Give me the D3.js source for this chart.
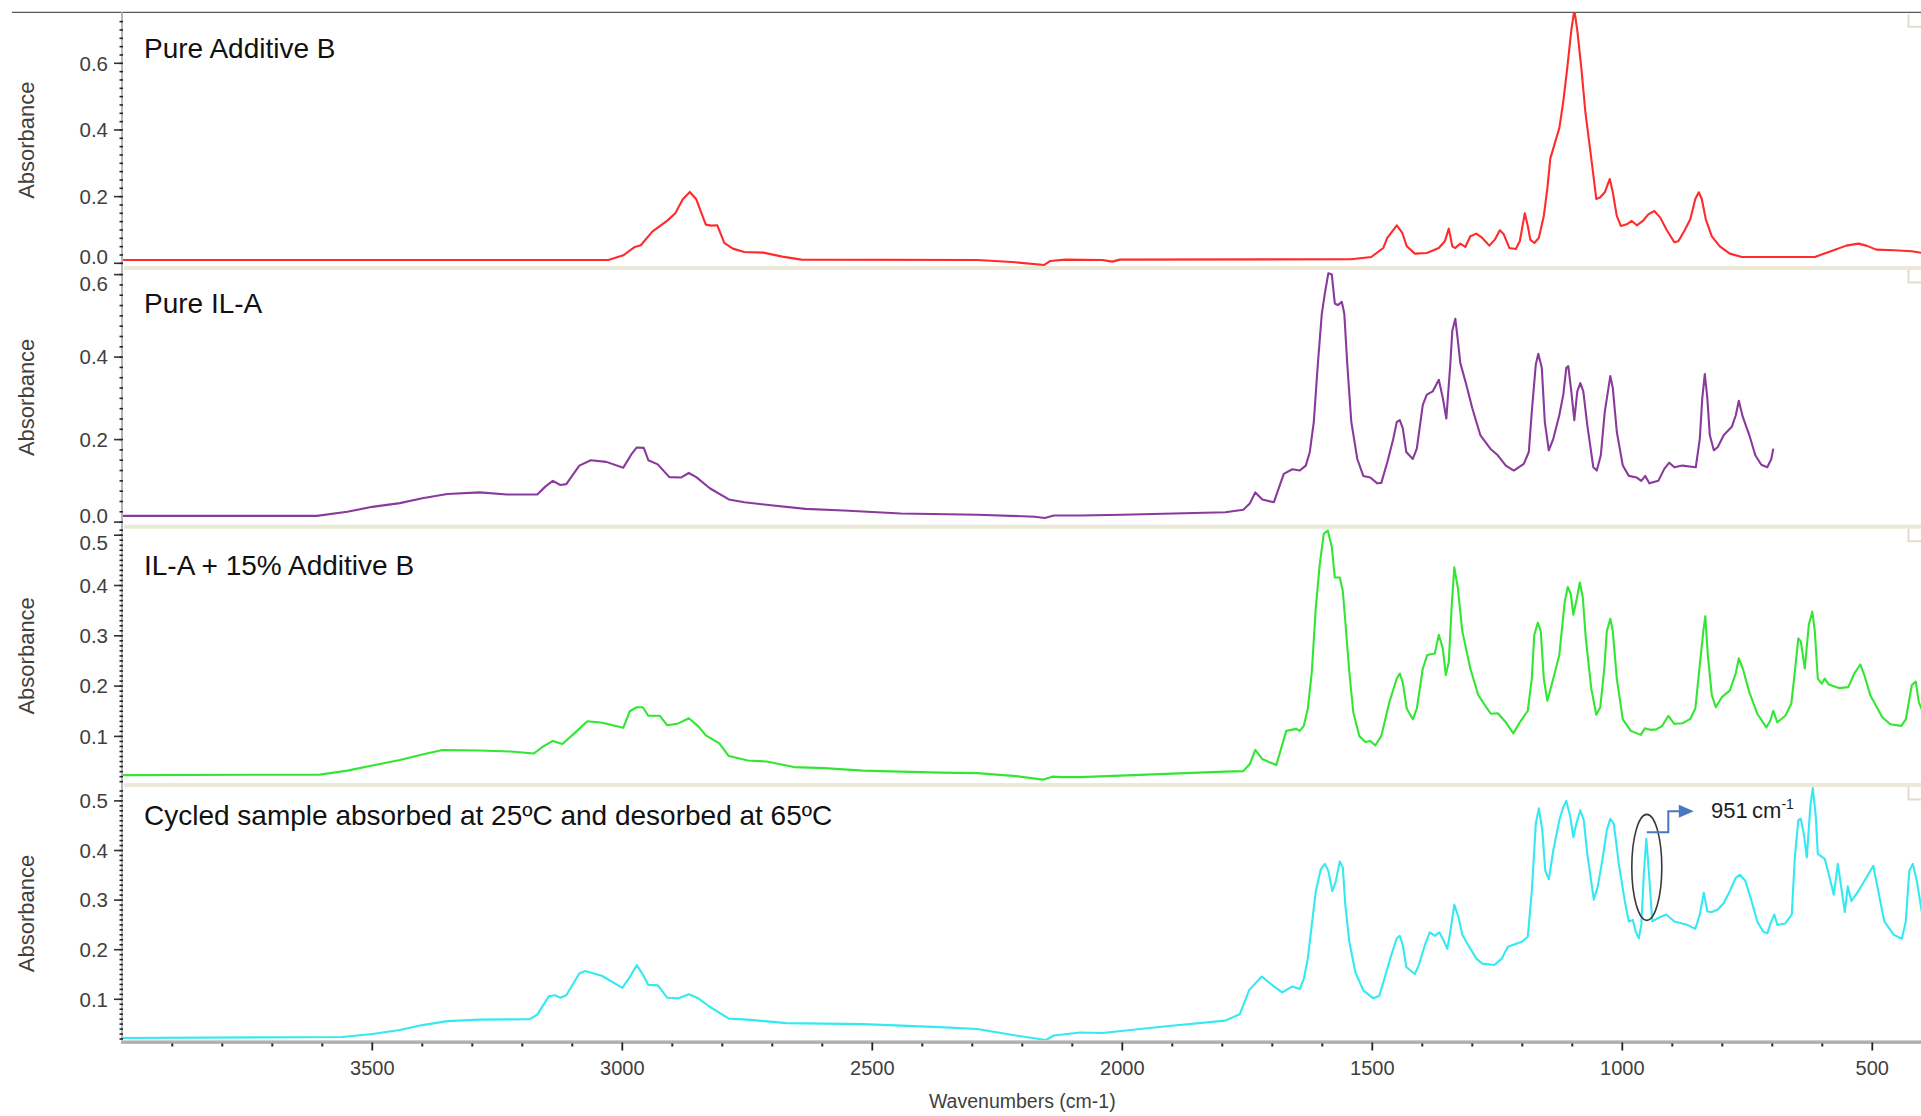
<!DOCTYPE html>
<html><head><meta charset="utf-8">
<script src="https://cdn.jsdelivr.net/npm/d3@7"></script>
<style>
body{margin:0;background:#fff}
svg{display:block}
text{font-family:"Liberation Sans",Arial,sans-serif}
</style>
</head><body>
<svg id="chart" width="1921" height="1116"></svg>
<script>
// ---------------- DATA (wavenumber cm-1, absorbance) ----------------
const additiveB = [[4000,0.010],[3290,0.010],[3028,0.010],[2998,0.024],[2975,0.049],[2963,0.054],[2940,0.095],[2910,0.128],[2894,0.150],[2879,0.192],[2865,0.214],[2852,0.192],[2833,0.116],[2822,0.113],[2810,0.114],[2796,0.061],[2779,0.044],[2756,0.034],[2718,0.032],[2680,0.020],[2642,0.011],[2290,0.010],[2221,0.004],[2156,-0.005],[2144,0.007],[2114,0.011],[2040,0.010],[2020,0.005],[2005,0.011],[1545,0.012],[1538,0.013],[1502,0.019],[1478,0.046],[1470,0.076],[1451,0.114],[1440,0.091],[1431,0.051],[1415,0.029],[1391,0.031],[1367,0.046],[1355,0.066],[1347,0.104],[1340,0.051],[1334,0.046],[1324,0.059],[1314,0.049],[1304,0.081],[1292,0.089],[1280,0.076],[1266,0.053],[1255,0.071],[1245,0.099],[1237,0.087],[1226,0.046],[1213,0.043],[1205,0.066],[1195,0.150],[1189,0.112],[1184,0.071],[1176,0.061],[1167,0.076],[1157,0.142],[1150,0.223],[1144,0.314],[1134,0.365],[1126,0.405],[1118,0.486],[1110,0.587],[1102,0.699],[1096,0.760],[1090,0.699],[1082,0.587],[1074,0.456],[1062,0.314],[1052,0.193],[1044,0.198],[1035,0.213],[1025,0.253],[1019,0.213],[1011,0.142],[1003,0.112],[991,0.117],[981,0.127],[971,0.114],[959,0.127],[948,0.147],[936,0.157],[924,0.137],[912,0.102],[896,0.063],[888,0.066],[876,0.097],[864,0.132],[854,0.193],[847,0.213],[841,0.193],[833,0.132],[821,0.081],[805,0.051],[785,0.029],[761,0.019],[615,0.019],[583,0.036],[552,0.053],[528,0.059],[512,0.053],[492,0.041],[457,0.039],[421,0.036],[400,0.031]];

const pureILA = [[4000,0.015],[3611,0.015],[3550,0.025],[3500,0.037],[3445,0.046],[3400,0.058],[3350,0.068],[3285,0.072],[3231,0.067],[3170,0.067],[3154,0.086],[3139,0.100],[3124,0.090],[3112,0.092],[3086,0.137],[3063,0.150],[3032,0.146],[2998,0.132],[2982,0.164],[2971,0.181],[2957,0.180],[2948,0.150],[2929,0.140],[2906,0.109],[2883,0.108],[2867,0.119],[2852,0.109],[2825,0.082],[2787,0.055],[2756,0.048],[2703,0.041],[2634,0.032],[2557,0.028],[2443,0.021],[2290,0.018],[2175,0.013],[2155,0.010],[2137,0.016],[2084,0.016],[2000,0.018],[1794,0.024],[1758,0.030],[1745,0.045],[1734,0.072],[1720,0.055],[1697,0.048],[1677,0.117],[1660,0.128],[1645,0.125],[1633,0.137],[1625,0.170],[1617,0.243],[1609,0.382],[1601,0.505],[1595,0.554],[1588,0.603],[1581,0.600],[1575,0.530],[1569,0.526],[1561,0.534],[1556,0.505],[1550,0.382],[1542,0.243],[1530,0.153],[1518,0.112],[1504,0.108],[1490,0.094],[1482,0.095],[1470,0.145],[1458,0.202],[1451,0.243],[1445,0.247],[1439,0.227],[1432,0.170],[1419,0.153],[1411,0.178],[1399,0.284],[1391,0.309],[1379,0.317],[1367,0.345],[1359,0.301],[1352,0.251],[1344,0.382],[1340,0.464],[1334,0.493],[1328,0.431],[1324,0.386],[1312,0.333],[1300,0.276],[1284,0.211],[1264,0.178],[1249,0.162],[1233,0.137],[1217,0.125],[1197,0.141],[1187,0.170],[1181,0.268],[1173,0.382],[1168,0.408],[1161,0.374],[1155,0.243],[1147,0.174],[1138,0.202],[1126,0.259],[1118,0.309],[1112,0.374],[1108,0.378],[1102,0.317],[1096,0.247],[1090,0.317],[1084,0.337],[1078,0.317],[1070,0.235],[1058,0.133],[1051,0.125],[1043,0.162],[1035,0.268],[1024,0.354],[1019,0.325],[1011,0.219],[999,0.137],[987,0.112],[971,0.108],[962,0.100],[954,0.112],[946,0.094],[928,0.100],[916,0.129],[906,0.144],[896,0.133],[880,0.137],[853,0.133],[845,0.202],[840,0.301],[835,0.359],[830,0.301],[825,0.211],[817,0.174],[809,0.182],[797,0.211],[781,0.231],[773,0.259],[767,0.294],[759,0.255],[746,0.211],[734,0.162],[722,0.139],[710,0.133],[702,0.153],[698,0.178]];

const mix15 = [[4000,0.023],[3605,0.024],[3550,0.032],[3500,0.042],[3445,0.053],[3400,0.064],[3360,0.073],[3285,0.072],[3223,0.070],[3177,0.066],[3158,0.080],[3139,0.091],[3120,0.085],[3097,0.105],[3070,0.130],[3040,0.127],[2998,0.117],[2985,0.150],[2971,0.158],[2959,0.158],[2948,0.141],[2925,0.141],[2910,0.122],[2890,0.125],[2867,0.136],[2848,0.120],[2833,0.102],[2806,0.086],[2787,0.061],[2749,0.052],[2711,0.050],[2657,0.039],[2596,0.037],[2519,0.032],[2366,0.028],[2290,0.027],[2213,0.021],[2159,0.014],[2140,0.020],[2121,0.019],[2084,0.019],[1794,0.030],[1758,0.031],[1745,0.045],[1734,0.073],[1720,0.055],[1709,0.050],[1692,0.043],[1672,0.111],[1652,0.115],[1645,0.111],[1637,0.121],[1629,0.155],[1621,0.228],[1613,0.356],[1605,0.443],[1597,0.503],[1589,0.509],[1581,0.477],[1575,0.416],[1565,0.416],[1559,0.389],[1554,0.329],[1546,0.228],[1538,0.148],[1526,0.101],[1514,0.089],[1504,0.091],[1494,0.082],[1482,0.101],[1466,0.168],[1451,0.215],[1445,0.225],[1439,0.207],[1431,0.155],[1419,0.134],[1411,0.155],[1399,0.235],[1390,0.262],[1375,0.265],[1367,0.302],[1359,0.275],[1353,0.222],[1347,0.248],[1341,0.363],[1336,0.436],[1329,0.396],[1320,0.309],[1304,0.235],[1288,0.182],[1272,0.158],[1263,0.145],[1249,0.146],[1233,0.128],[1218,0.106],[1205,0.128],[1189,0.151],[1181,0.215],[1176,0.302],[1169,0.326],[1163,0.309],[1157,0.215],[1150,0.171],[1138,0.215],[1126,0.262],[1115,0.369],[1109,0.397],[1103,0.383],[1098,0.342],[1092,0.369],[1085,0.406],[1079,0.376],[1073,0.295],[1062,0.195],[1052,0.143],[1044,0.158],[1036,0.235],[1031,0.309],[1024,0.334],[1019,0.309],[1011,0.215],[999,0.134],[983,0.111],[963,0.103],[955,0.116],[944,0.113],[932,0.114],[920,0.121],[908,0.141],[896,0.125],[880,0.126],[864,0.135],[854,0.155],[845,0.242],[838,0.309],[834,0.339],[829,0.262],[821,0.182],[813,0.158],[801,0.178],[785,0.191],[773,0.226],[767,0.255],[759,0.235],[746,0.188],[730,0.145],[712,0.118],[704,0.131],[698,0.151],[690,0.128],[674,0.141],[662,0.165],[655,0.228],[648,0.295],[643,0.289],[635,0.235],[627,0.322],[620,0.348],[615,0.309],[609,0.215],[601,0.205],[595,0.215],[587,0.203],[567,0.196],[548,0.198],[536,0.225],[524,0.243],[516,0.222],[504,0.182],[480,0.138],[464,0.124],[442,0.121],[433,0.134],[421,0.202],[413,0.209],[407,0.168],[400,0.151]];

const cycled = [[4000,0.022],[3560,0.024],[3500,0.030],[3445,0.038],[3400,0.048],[3350,0.056],[3285,0.059],[3185,0.060],[3170,0.069],[3147,0.106],[3135,0.108],[3124,0.103],[3112,0.108],[3086,0.152],[3074,0.157],[3040,0.147],[3000,0.123],[2986,0.143],[2971,0.169],[2959,0.150],[2948,0.129],[2929,0.128],[2910,0.103],[2887,0.102],[2867,0.110],[2848,0.102],[2825,0.085],[2787,0.061],[2749,0.059],[2672,0.052],[2519,0.050],[2366,0.044],[2290,0.040],[2213,0.027],[2153,0.018],[2137,0.027],[2084,0.033],[2040,0.032],[1917,0.045],[1794,0.057],[1765,0.070],[1746,0.119],[1721,0.146],[1697,0.126],[1680,0.114],[1660,0.126],[1645,0.121],[1637,0.141],[1629,0.182],[1621,0.250],[1613,0.318],[1603,0.362],[1595,0.373],[1588,0.359],[1580,0.318],[1573,0.338],[1565,0.378],[1559,0.366],[1554,0.291],[1546,0.216],[1534,0.155],[1518,0.118],[1498,0.102],[1486,0.107],[1474,0.148],[1462,0.189],[1451,0.223],[1445,0.228],[1439,0.209],[1432,0.165],[1415,0.151],[1407,0.169],[1395,0.209],[1385,0.235],[1375,0.228],[1366,0.235],[1358,0.220],[1350,0.202],[1344,0.236],[1336,0.291],[1328,0.267],[1320,0.230],[1308,0.209],[1292,0.182],[1280,0.172],[1256,0.169],[1241,0.182],[1229,0.206],[1201,0.216],[1189,0.226],[1181,0.318],[1173,0.454],[1167,0.485],[1160,0.441],[1154,0.359],[1147,0.342],[1138,0.400],[1126,0.461],[1118,0.488],[1112,0.500],[1104,0.468],[1098,0.427],[1092,0.454],[1084,0.481],[1077,0.461],[1070,0.393],[1057,0.301],[1049,0.328],[1039,0.386],[1031,0.441],[1024,0.464],[1017,0.454],[1007,0.373],[995,0.298],[987,0.257],[979,0.260],[973,0.236],[967,0.223],[962,0.250],[957,0.352],[952,0.424],[946,0.345],[940,0.257],[928,0.264],[912,0.271],[896,0.257],[872,0.251],[854,0.242],[845,0.271],[837,0.315],[830,0.277],[821,0.276],[809,0.281],[797,0.294],[785,0.318],[773,0.345],[765,0.351],[754,0.339],[742,0.300],[730,0.257],[718,0.236],[710,0.233],[702,0.257],[696,0.271],[690,0.250],[674,0.253],[661,0.271],[655,0.386],[648,0.461],[643,0.464],[637,0.434],[631,0.386],[624,0.488],[619,0.526],[613,0.468],[609,0.393],[595,0.383],[587,0.352],[577,0.311],[569,0.373],[563,0.332],[555,0.276],[549,0.328],[542,0.298],[528,0.318],[512,0.345],[498,0.369],[488,0.318],[476,0.257],[457,0.230],[441,0.222],[433,0.257],[426,0.359],[419,0.373],[411,0.339],[400,0.270]];

const panelTitles = ["Pure Additive B", "Pure IL-A", "IL-A + 15% Additive B", "Cycled sample absorbed at 25\u00BAC and desorbed at 65\u00BAC"];
const seriesColors = ["#ff2b2b", "#8a3a9c", "#33e633", "#33e9f2"];
const yTicks1 = [0.0, 0.2, 0.4, 0.6];
const yTicks2 = [0.0, 0.2, 0.4, 0.6];
const yTicks3 = [0.1, 0.2, 0.3, 0.4, 0.5];
const yTicks4 = [0.1, 0.2, 0.3, 0.4, 0.5];
const xTicks = [3500, 3000, 2500, 2000, 1500, 1000, 500];
const xMinorTicks = d3.range(3900, 399, -100);
const xTitle = "Wavenumbers (cm-1)";
const yTitle = "Absorbance";
const markWavenumber = 951;

// ---------------- LAYOUT ----------------
const svg = d3.select("#chart");
const X0 = 122.3, XR = 1921;
const x = d3.scaleLinear().domain([4000, 400]).range([122.3, 1922.3]);

const panels = [
  {data: additiveB, ticks: yTicks1, minor: 0.025, dom: [0, 0.6], rng: [263.3, 63.3], top: 12.3, bottom: 268, titleY: 58},
  {data: pureILA,   ticks: yTicks2, minor: 0.025, dom: [0, 0.6], rng: [522.1, 274.6], top: 268, bottom: 526.7, titleY: 313},
  {data: mix15,     ticks: yTicks3, minor: 0.01,  dom: [0.1, 0.5], rng: [736.4, 535.2], top: 526.7, bottom: 785, titleY: 575},
  {data: cycled,    ticks: yTicks4, minor: 0.01,  dom: [0.1, 0.5], rng: [999.3, 800.9], top: 785, bottom: 1042, titleY: 825}
];

const defs = svg.append("defs");

// top frame line
svg.append("line").attr("x1", 12).attr("x2", XR).attr("y1", 12.3).attr("y2", 12.3)
  .attr("stroke", "#5a5a5a").attr("stroke-width", 1.2);

panels.forEach((p, i) => {
  const y = d3.scaleLinear().domain(p.dom).range(p.rng);
  p.y = y;
  const g = svg.append("g");

  if (i < 3) {
    g.append("line").attr("x1", 124).attr("x2", XR).attr("y1", p.bottom).attr("y2", p.bottom)
      .attr("stroke", "#ece9d8").attr("stroke-width", 4);
  }
  g.append("path").attr("d", `M1908.5,${p.top + 2}V${p.top + 14.5}H${XR}`)
    .attr("fill", "none").attr("stroke", "#e2ddc8").attr("stroke-width", 2);

  defs.append("clipPath").attr("id", "clip" + i).append("rect")
    .attr("x", X0).attr("y", p.top).attr("width", XR - X0).attr("height", p.bottom - p.top - (i < 3 ? 2 : 1));

  const line = d3.line().x(d => x(d[0])).y(d => y(d[1]));
  g.append("path").datum(p.data).attr("d", line)
    .attr("clip-path", `url(#clip${i})`)
    .attr("fill", "none").attr("stroke", seriesColors[i]).attr("stroke-width", 2.1)
    .attr("stroke-linejoin", "round");

  g.append("text").attr("x", 144).attr("y", p.titleY).attr("font-size", 28).attr("fill", "#111")
    .text(panelTitles[i]);

  g.selectAll(".mj").data(p.ticks).join("line")
    .attr("x1", 114).attr("x2", 122.6)
    .attr("y1", d => y(d)).attr("y2", d => y(d))
    .attr("stroke", "#333").attr("stroke-width", 1.6);
  g.selectAll(".tl").data(p.ticks).join("text")
    .attr("x", 108).attr("text-anchor", "end").attr("font-size", 20.5).attr("fill", "#404040")
    .attr("y", d => Math.max(p.top + 16, Math.min(p.bottom - 11, y(d))) + 7.3)
    .text(d => d3.format(".1f")(d));

  const cy = (p.top + p.bottom) / 2;
  g.append("text").attr("transform", `translate(33.5,${cy}) rotate(-90)`)
    .attr("text-anchor", "middle").attr("font-size", 22).attr("fill", "#404040")
    .text(yTitle);
});

// y axis line
svg.append("line").attr("x1", 122).attr("x2", 122).attr("y1", 12.3).attr("y2", 1042)
  .attr("stroke", "#b5b5b5").attr("stroke-width", 2);

// x axis
const AX = 1042;
svg.append("line").attr("x1", 121).attr("x2", XR).attr("y1", AX).attr("y2", AX)
  .attr("stroke", "#a8a8a8").attr("stroke-width", 3.5);
svg.append("line").attr("x1", 121).attr("x2", XR).attr("y1", AX - 1.2).attr("y2", AX - 1.2)
  .attr("stroke", "#d6d6d6").attr("stroke-width", 1);
svg.selectAll(".xmn").data(xMinorTicks.filter(d => xTicks.indexOf(d) < 0)).join("line")
  .attr("x1", d => x(d)).attr("x2", d => x(d)).attr("y1", AX + 1.5).attr("y2", AX + 4.5)
  .attr("stroke", "#222").attr("stroke-width", 2);
svg.selectAll(".xmj").data(xTicks).join("line")
  .attr("x1", d => x(d)).attr("x2", d => x(d)).attr("y1", AX + 0.5).attr("y2", AX + 8.5)
  .attr("stroke", "#222").attr("stroke-width", 1.8);
svg.selectAll(".xtl").data(xTicks).join("text")
  .attr("x", d => x(d)).attr("y", 1075).attr("text-anchor", "middle")
  .attr("font-size", 20).attr("fill", "#404040").text(d => d);
svg.append("text").attr("x", x(2200)).attr("y", 1108).attr("text-anchor", "middle")
  .attr("font-size", 19.5).attr("fill", "#404040").text(xTitle);

// y minor dots over axis line
panels.forEach((p) => {
  const y = p.y;
  const vTop = y.invert(p.top + 2), vBot = y.invert(p.bottom - 2);
  const minors = d3.range(Math.ceil(vBot / p.minor - 1e-6), Math.floor(vTop / p.minor + 1e-6) + 1).map(k => k * p.minor);
  svg.append("g").selectAll("line").data(minors).join("line")
    .attr("x1", 119.5).attr("x2", 123)
    .attr("y1", d => y(d)).attr("y2", d => y(d))
    .attr("stroke", "#222").attr("stroke-width", 1.6);
});

// ---------------- ANNOTATION (951 cm-1) ----------------
const p4 = panels[3];
const ax = x(markWavenumber);
svg.append("ellipse").attr("cx", ax).attr("cy", p4.y(0.366)).attr("rx", 15).attr("ry", 53)
  .attr("fill", "none").attr("stroke", "#3a3a3a").attr("stroke-width", 1.6);
const yA = p4.y(0.437), yB = p4.y(0.479);
const xMid = x(908), xHead = x(885);
svg.append("path").attr("d", `M${ax},${yA}H${xMid}V${yB}H${xHead}`)
  .attr("fill", "none").attr("stroke", "#4a78c0").attr("stroke-width", 2);
svg.append("path").attr("d", `M${xHead - 1},${yB - 6.5}L${xHead + 14},${yB}L${xHead - 1},${yB + 6.5}Z`)
  .attr("fill", "#4a78c0");
const lab = svg.append("text").attr("x", 1711).attr("y", 817.5).attr("font-size", 22).attr("fill", "#1e1e1e");
lab.append("tspan").text(markWavenumber + "\u2009cm");
lab.append("tspan").attr("dy", -9).attr("font-size", 14).text("-1");
</script>
</body></html>
